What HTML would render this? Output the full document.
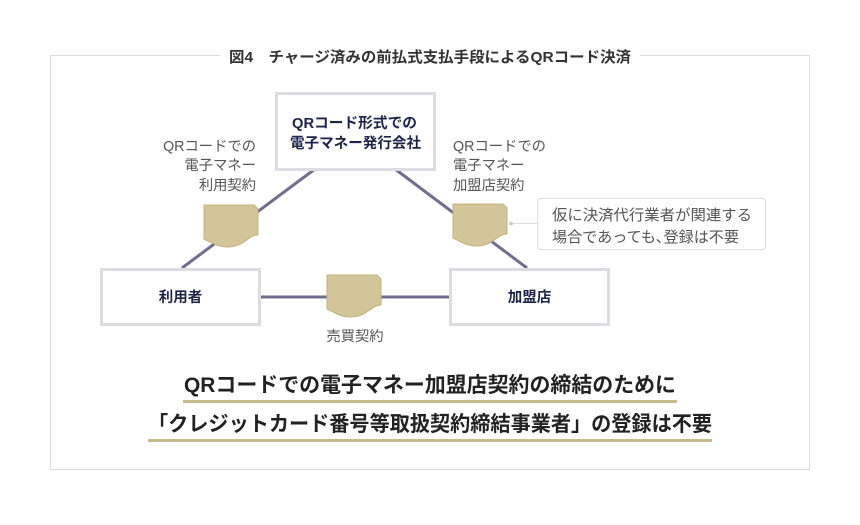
<!DOCTYPE html>
<html><head><meta charset="utf-8"><style>
html,body{margin:0;padding:0;background:#fff;}
svg text{font-family:"Liberation Sans","Noto Sans CJK JP",sans-serif;}
</style></head><body>
<svg width="860" height="520" viewBox="0 0 860 520" xmlns="http://www.w3.org/2000/svg">
<defs>
<path id="doc" d="M0,0 H50 L54,4 V30 C44,30 40,42 24,42 C14,42 8,38 0,34 Z" fill="#d3c59a" stroke="#c2b27f" stroke-width="1"/>
</defs>
<rect x="50.5" y="55.5" width="759" height="414" fill="none" stroke="#dcdcdc" stroke-width="1"/>
<rect x="220" y="44" width="420" height="22" fill="#fff"/>
<text x="229" y="62" font-size="15" font-weight="bold" fill="#333" textLength="402" lengthAdjust="spacingAndGlyphs">図4　チャージ済みの前払式支払手段によるQRコード決済</text>

<g stroke="#6f6e8f" stroke-width="3" fill="none">
<line x1="315" y1="169" x2="182" y2="268"/>
<line x1="395" y1="169" x2="527" y2="268"/>
<line x1="260" y1="297" x2="449" y2="297"/>
</g>

<rect x="276.5" y="93.5" width="158" height="76" fill="#fff" stroke="#dcdce2" stroke-width="3"/>
<text x="292" y="128" font-size="14.5" font-weight="bold" fill="#1e2448" textLength="125" lengthAdjust="spacingAndGlyphs">QRコード形式での</text>
<text x="290" y="148" font-size="14.5" font-weight="bold" fill="#1e2448" textLength="131" lengthAdjust="spacingAndGlyphs">電子マネー発行会社</text>

<rect x="101.5" y="269.5" width="158" height="55" fill="#fff" stroke="#dcdce2" stroke-width="3"/>
<text x="180.5" y="302" font-size="14.5" font-weight="bold" fill="#1e2448" text-anchor="middle">利用者</text>
<rect x="450.5" y="269.5" width="158" height="55" fill="#fff" stroke="#dcdce2" stroke-width="3"/>
<text x="529.5" y="302" font-size="14.5" font-weight="bold" fill="#1e2448" text-anchor="middle">加盟店</text>

<use href="#doc" transform="translate(204,205)"/>
<use href="#doc" transform="translate(453,204)"/>
<use href="#doc" transform="translate(327,275)"/>

<g font-size="14.3" fill="#555">
<text x="256" y="151" text-anchor="end">QRコードでの</text>
<text x="256" y="170" text-anchor="end">電子マネー</text>
<text x="256" y="190" text-anchor="end">利用契約</text>
<text x="453" y="151">QRコードでの</text>
<text x="453" y="170">電子マネー</text>
<text x="453" y="190">加盟店契約</text>
<text x="355" y="341" text-anchor="middle">売買契約</text>
</g>

<line x1="511" y1="223.5" x2="537" y2="223.5" stroke="#ddd" stroke-width="1"/>
<circle cx="511" cy="223.5" r="2" fill="#ccc"/>
<rect x="537.5" y="198.5" width="228" height="51" rx="3" fill="#fff" stroke="#ddd" stroke-width="1"/>
<text x="552" y="220" font-size="15" fill="#555" textLength="200" lengthAdjust="spacingAndGlyphs">仮に決済代行業者が関連する</text>
<text x="552" y="242" font-size="15" fill="#555" textLength="187" lengthAdjust="spacingAndGlyphs">場合であっても､登録は不要</text>

<text x="184" y="392" font-size="21" font-weight="bold" fill="#222" textLength="492" lengthAdjust="spacingAndGlyphs">QRコードでの電子マネー加盟店契約の締結のために</text>
<rect x="183" y="400" width="494" height="3" fill="#c8bb8e"/>
<text x="148" y="431" font-size="21" font-weight="bold" fill="#222" textLength="564" lengthAdjust="spacingAndGlyphs">「クレジットカード番号等取扱契約締結事業者」の登録は不要</text>
<rect x="148" y="439" width="564" height="3" fill="#c8bb8e"/>
</svg>
</body></html>
